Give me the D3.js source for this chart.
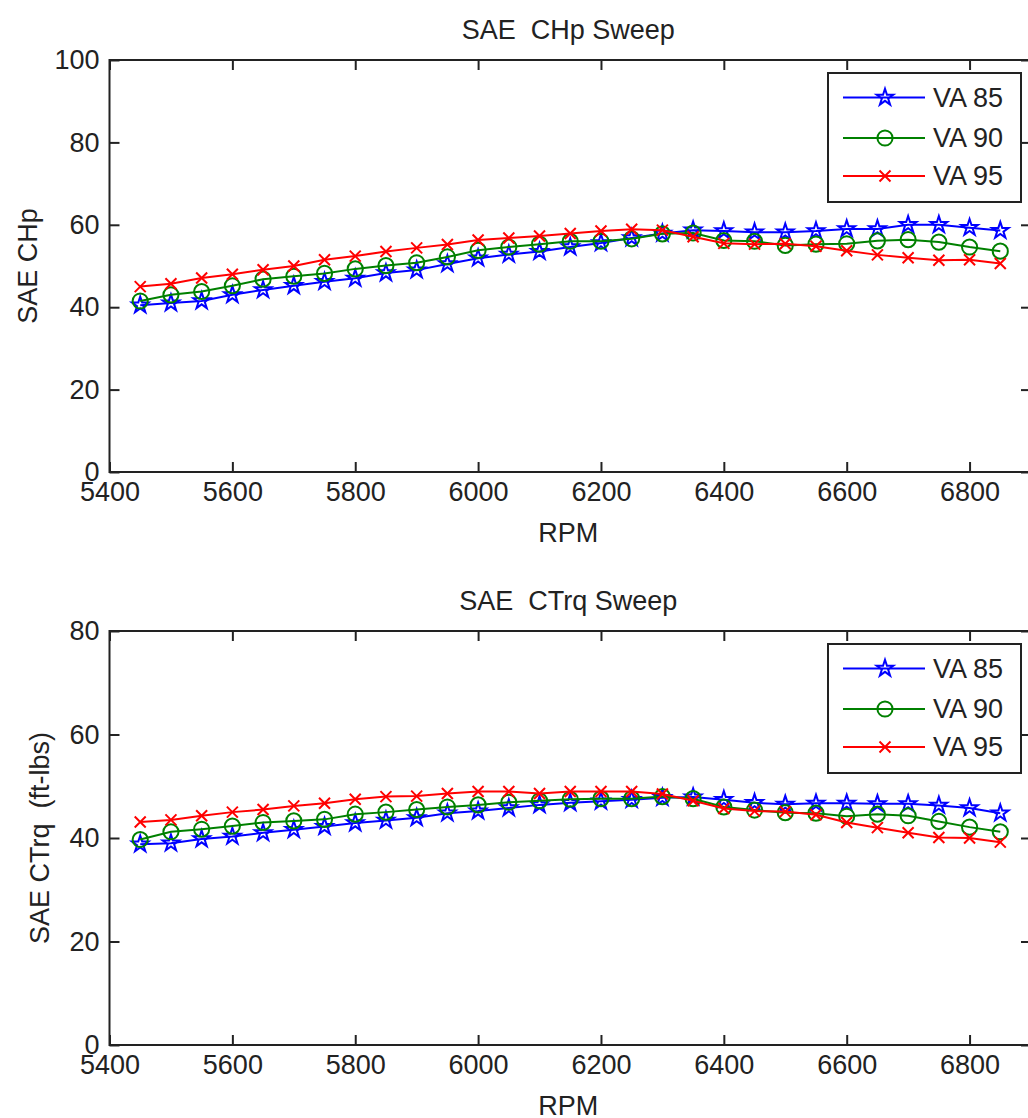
<!DOCTYPE html>
<html>
<head>
<meta charset="utf-8">
<script src="https://cdn.jsdelivr.net/npm/d3@7"></script>
<style>
  body { margin: 0; background: #fff; }
  text { font-family: "Liberation Sans", Arial, sans-serif; fill: #222; }
</style>
</head>
<body>
<svg id="chart" width="1028" height="1118"></svg>
<script>
// 数据
var rpm = [5450, 5500, 5550, 5600, 5650, 5700, 5750, 5800, 5850, 5900, 5950, 6000, 6050, 6100, 6150,
  6200, 6250, 6300, 6350, 6400, 6450, 6500, 6550, 6600, 6650, 6700, 6750, 6800, 6850];

var seriesNames = ['VA 85', 'VA 90', 'VA 95'];

var chp85 = [40.5, 41.0, 41.5, 43.0, 44.2, 45.2, 46.2, 47.0, 48.3, 49.0, 50.5, 51.9, 52.8, 53.5, 54.6,
  55.6, 56.8, 57.9, 58.7, 58.5, 58.2, 58.2, 58.5, 59.0, 59.0, 60.0, 60.0, 59.3, 58.6];
var chp90 = [41.5, 43.0, 43.8, 45.2, 46.8, 47.5, 48.2, 49.3, 50.1, 50.8, 52.2, 53.8, 54.6, 55.3, 56.0,
  56.0, 56.6, 57.8, 58.0, 56.2, 56.0, 55.0, 55.3, 55.4, 56.1, 56.4, 55.8, 54.6, 53.6];
var chp95 = [45.0, 45.7, 47.1, 48.0, 49.1, 50.0, 51.5, 52.4, 53.5, 54.4, 55.2, 56.3, 56.8, 57.3, 57.9,
  58.5, 58.9, 58.7, 57.1, 55.5, 55.3, 55.4, 54.8, 53.7, 52.7, 52.0, 51.4, 51.5, 50.6];

var ctq85 = [38.8, 39.0, 39.8, 40.3, 41.0, 41.6, 42.2, 42.9, 43.4, 43.9, 44.8, 45.2, 45.8, 46.4, 46.8,
  47.1, 47.4, 47.8, 47.9, 47.4, 46.8, 46.5, 46.7, 46.7, 46.6, 46.6, 46.3, 45.8, 44.8];
var ctq90 = [39.7, 41.2, 41.7, 42.3, 43.0, 43.3, 43.6, 44.6, 45.0, 45.5, 46.0, 46.4, 46.9, 47.2, 47.5,
  47.6, 47.6, 48.0, 47.6, 46.0, 45.4, 44.9, 44.8, 44.2, 44.6, 44.3, 43.2, 42.1, 41.2];
var ctq95 = [43.1, 43.5, 44.3, 45.0, 45.5, 46.2, 46.7, 47.5, 48.0, 48.1, 48.6, 49.0, 49.0, 48.6, 49.0,
  49.0, 49.0, 48.5, 47.2, 45.7, 45.2, 45.1, 44.5, 43.0, 42.0, 41.0, 40.1, 40.0, 39.2];

var xTicks = [5400, 5600, 5800, 6000, 6200, 6400, 6600, 6800];
var yTicksTop = [0, 20, 40, 60, 80, 100];
var yTicksBottom = [0, 20, 40, 60, 80];

// 样式常量
var COLORS = ['#0000ff', '#008000', '#ff0000'];
var MARKERS = ['star', 'circle', 'x'];
var FONT_SIZE = 27;
var TICK_LEN = 10;
var PLOT_LEFT = 109.5;
var PLOT_RIGHT = 1031;

var svg = d3.select('#chart');
svg.append('rect').attr('width', 1028).attr('height', 1118).attr('fill', '#fff');

function markerPath(type) {
  if (type === 'star') {
    return d3.symbol(d3.symbolStar, 85)();
  }
  if (type === 'circle') {
    return d3.symbol(d3.symbolCircle, 180)();
  }
  var r = 5.5;
  return 'M' + (-r) + ',' + (-r) + 'L' + r + ',' + r + 'M' + (-r) + ',' + r + 'L' + r + ',' + (-r);
}

function drawPanel(opt) {
  var x = d3.scaleLinear().domain([5400, 6900]).range([PLOT_LEFT, PLOT_RIGHT]);
  var y = d3.scaleLinear().domain([0, opt.yMax]).range([opt.bottom, opt.top]);
  var g = svg.append('g');

  // 边框
  g.append('rect')
    .attr('x', PLOT_LEFT).attr('y', opt.top)
    .attr('width', PLOT_RIGHT - PLOT_LEFT).attr('height', opt.bottom - opt.top)
    .attr('fill', 'none').attr('stroke', '#222').attr('stroke-width', 2);

  // 刻度 (朝内, 上下左右都有)
  var fmt = d3.format('d');
  var axB = d3.axisBottom(x).tickValues(xTicks).tickFormat(fmt).tickSizeInner(-TICK_LEN).tickSizeOuter(0).tickPadding(10);
  var axT = d3.axisTop(x).tickValues(xTicks).tickSizeInner(-TICK_LEN).tickSizeOuter(0).tickFormat('');
  var axL = d3.axisLeft(y).tickValues(opt.yTicks).tickFormat(fmt).tickSizeInner(-TICK_LEN).tickSizeOuter(0).tickPadding(10);
  var axR = d3.axisRight(y).tickValues(opt.yTicks).tickSizeInner(-TICK_LEN).tickSizeOuter(0).tickFormat('');

  var gb = g.append('g').attr('transform', 'translate(0,' + opt.bottom + ')').call(axB);
  var gt = g.append('g').attr('transform', 'translate(0,' + opt.top + ')').call(axT);
  var gl = g.append('g').attr('transform', 'translate(' + PLOT_LEFT + ',0)').call(axL);
  var gr = g.append('g').attr('transform', 'translate(' + PLOT_RIGHT + ',0)').call(axR);
  [gb, gt, gl, gr].forEach(function(a) {
    a.select('.domain').remove();
    a.selectAll('line').attr('stroke', '#222').attr('stroke-width', 2);
    a.selectAll('text').attr('font-size', FONT_SIZE).attr('font-family', null).attr('fill', '#222');
  });
  gb.selectAll('text').attr('dy', '0.71em');

  // 标题和轴标签
  var cx = (PLOT_LEFT + PLOT_RIGHT) / 2;
  g.append('text').attr('x', cx - 2).attr('y', opt.top - 30)
    .attr('text-anchor', 'middle').attr('dy', '0.35em')
    .attr('font-size', FONT_SIZE).style('white-space', 'pre')
    .text(opt.title);
  g.append('text').attr('x', cx - 2).attr('y', opt.bottom + 61)
    .attr('text-anchor', 'middle').attr('dy', '0.35em')
    .attr('font-size', FONT_SIZE).text('RPM');
  g.append('text')
    .attr('transform', 'translate(' + opt.yLabelX + ',' + (opt.top + opt.bottom) / 2 + ') rotate(-90)')
    .attr('text-anchor', 'middle').attr('dy', '0.35em')
    .attr('font-size', FONT_SIZE).style('white-space', 'pre')
    .text(opt.yLabel);

  // 折线和标记
  var line = d3.line()
    .x(function(d, i) { return x(rpm[i]); })
    .y(function(d) { return y(d); });

  opt.series.forEach(function(vals, s) {
    g.append('path').datum(vals)
      .attr('d', line)
      .attr('fill', 'none')
      .attr('stroke', COLORS[s])
      .attr('stroke-width', 2);
    g.append('g').selectAll('path')
      .data(vals).enter()
      .append('path')
      .attr('transform', function(d, i) { return 'translate(' + x(rpm[i]) + ',' + y(d) + ')'; })
      .attr('d', markerPath(MARKERS[s]))
      .attr('fill', 'none')
      .attr('stroke', COLORS[s])
      .attr('stroke-width', 2);
  });

  // 图例
  var lx = 828, ly = opt.top + 13, lw = 193, lh = 129;
  var leg = g.append('g');
  leg.append('rect').attr('x', lx).attr('y', ly).attr('width', lw).attr('height', lh)
    .attr('fill', '#fff').attr('stroke', '#222').attr('stroke-width', 2);
  var rowY = [24.5, 65, 103];
  seriesNames.forEach(function(name, s) {
    var yy = ly + rowY[s];
    leg.append('line').attr('x1', lx + 15).attr('x2', lx + 97)
      .attr('y1', yy).attr('y2', yy)
      .attr('stroke', COLORS[s]).attr('stroke-width', 2);
    leg.append('path')
      .attr('transform', 'translate(' + (lx + 57) + ',' + yy + ')')
      .attr('d', markerPath(MARKERS[s]))
      .attr('fill', 'none').attr('stroke', COLORS[s]).attr('stroke-width', 2);
    leg.append('text').attr('x', lx + 105).attr('y', yy)
      .attr('dy', '0.35em').attr('font-size', FONT_SIZE)
      .text(name);
  });
}

drawPanel({
  top: 60, bottom: 472, yMax: 100, yTicks: yTicksTop,
  title: 'SAE  CHp Sweep', yLabel: 'SAE CHp', yLabelX: 28,
  series: [chp85, chp90, chp95]
});

drawPanel({
  top: 631, bottom: 1045, yMax: 80, yTicks: yTicksBottom,
  title: 'SAE  CTrq Sweep', yLabel: 'SAE CTrq  (ft-lbs)', yLabelX: 40,
  series: [ctq85, ctq90, ctq95]
});
</script>
</body>
</html>
